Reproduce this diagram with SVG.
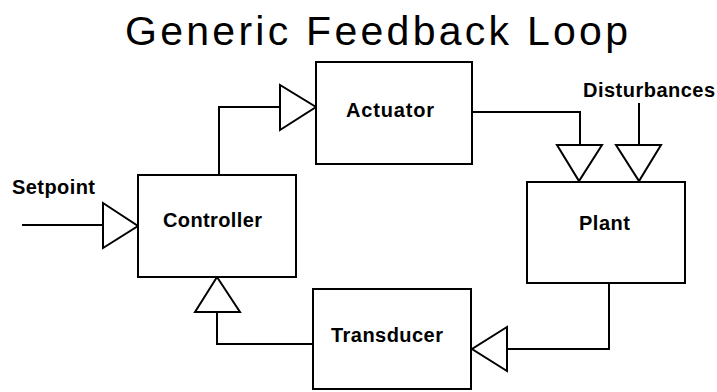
<svg xmlns="http://www.w3.org/2000/svg" width="717" height="392" viewBox="0 0 717 392">
  <style>
    .box { fill: #fff; stroke: #000; stroke-width: 2; }
    .wire { fill: none; stroke: #000; stroke-width: 2; }
    .tri { fill: #fff; stroke: #000; stroke-width: 2; stroke-linejoin: miter; }
    .title { font-family: "Liberation Sans", Arial, sans-serif; font-size: 41px; fill: #000; }
    .label { font-family: "Liberation Sans", Arial, sans-serif; font-size: 20px; font-weight: bold; fill: #000; }
  </style>
  <rect width="717" height="392" fill="#fff"/>

  <text class="title" x="125" y="45" textLength="503" lengthAdjust="spacing">Generic Feedback Loop</text>

  <!-- connectors -->
  <g id="connectors">
    <!-- setpoint input -->
    <path class="wire" d="M22 225 H103"/>
    <polygon class="tri" points="103,203 103,248 138,226"/>
    <!-- controller to actuator -->
    <path class="wire" d="M219 174 V107 H280"/>
    <polygon class="tri" points="280,85 280,130 316,107"/>
    <!-- actuator to plant -->
    <path class="wire" d="M472 112 H580 V145"/>
    <polygon class="tri" points="557,145 602,145 579,181"/>
    <!-- disturbances to plant -->
    <path class="wire" d="M639 103 V145"/>
    <polygon class="tri" points="616,145 661,145 639,181"/>
    <!-- plant to transducer -->
    <path class="wire" d="M609 283 V349 H507"/>
    <polygon class="tri" points="507,327 507,371 472,349"/>
    <!-- transducer to controller -->
    <path class="wire" d="M313 344 H217 V312"/>
    <polygon class="tri" points="195,312 240,312 217,277"/>
  </g>

  <g id="actuator">
    <rect class="box" x="316" y="62" width="156" height="102"/>
    <text class="label" x="346" y="117" textLength="88" lengthAdjust="spacing">Actuator</text>
  </g>

  <g id="controller">
    <rect class="box" x="138" y="175" width="158" height="102"/>
    <text class="label" x="163" y="227" textLength="99" lengthAdjust="spacing">Controller</text>
  </g>

  <g id="plant">
    <rect class="box" x="527" y="182" width="158" height="101"/>
    <text class="label" x="579" y="230" textLength="51" lengthAdjust="spacing">Plant</text>
  </g>

  <g id="transducer">
    <rect class="box" x="313" y="289" width="158" height="100"/>
    <text class="label" x="331" y="342" textLength="112" lengthAdjust="spacing">Transducer</text>
  </g>

  <g id="setpoint">
    <text class="label" x="12" y="194" textLength="83" lengthAdjust="spacing">Setpoint</text>
  </g>

  <g id="disturbances">
    <text class="label" x="583" y="97" textLength="132" lengthAdjust="spacing">Disturbances</text>
  </g>
</svg>
